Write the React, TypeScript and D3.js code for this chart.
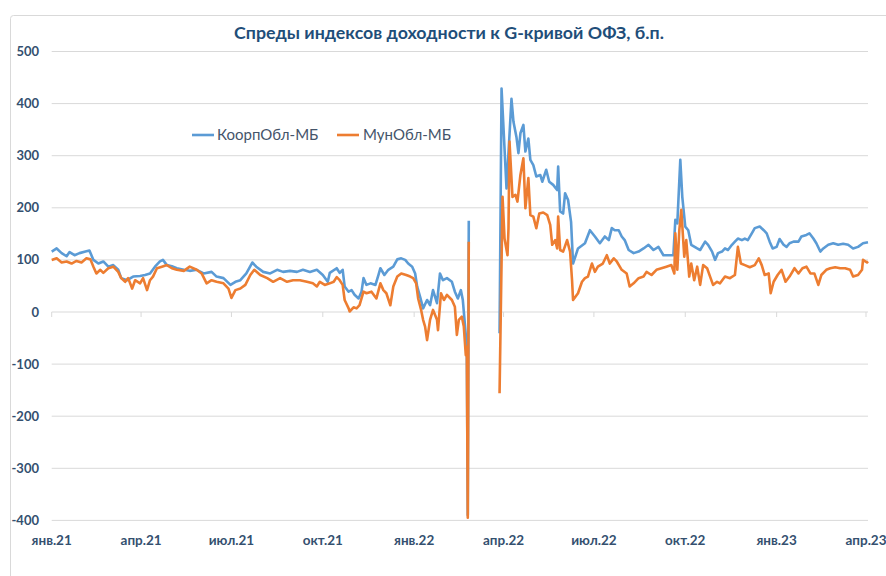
import React from "react";
import * as d3 from "d3";

const TITLE = "Спреды индексов доходности к G-кривой ОФЗ, б.п.";
const SERIES_NAMES = ["КоорпОбл-МБ", "МунОбл-МБ"];
const Y_TICKS = [500, 400, 300, 200, 100, 0, -100, -200, -300, -400];
const X_TICK_DATES = ["2021-01-01", "2021-04-01", "2021-07-01", "2021-10-01", "2022-01-01", "2022-04-01", "2022-07-01", "2022-10-01", "2023-01-01", "2023-04-01"];
const X_TICK_LABELS = ["янв.21", "апр.21", "июл.21", "окт.21", "янв.22", "апр.22", "июл.22", "окт.22", "янв.23", "апр.23"];
const GAP_DATE = "2022-03-10";

const koorpDates = [
  "2021-01-01","2021-01-06","2021-01-11","2021-01-16","2021-01-19","2021-01-24","2021-01-29","2021-02-04","2021-02-08","2021-02-12",
  "2021-02-17","2021-02-22","2021-02-27","2021-03-04","2021-03-09","2021-03-12","2021-03-18","2021-03-24","2021-03-31","2021-04-05",
  "2021-04-10","2021-04-15","2021-04-20","2021-04-23","2021-04-27","2021-05-02","2021-05-07","2021-05-14","2021-05-20","2021-05-27",
  "2021-06-03","2021-06-11","2021-06-16","2021-06-23","2021-06-30","2021-07-05","2021-07-10","2021-07-16","2021-07-22","2021-07-26",
  "2021-08-02","2021-08-09","2021-08-16","2021-08-22","2021-08-29","2021-09-05","2021-09-11","2021-09-18","2021-09-25","2021-10-01",
  "2021-10-06","2021-10-08","2021-10-15","2021-10-18","2021-10-21","2021-10-23","2021-10-27","2021-10-30","2021-11-02","2021-11-06",
  "2021-11-09","2021-11-11","2021-11-14","2021-11-18","2021-11-23","2021-11-26","2021-11-28","2021-12-02","2021-12-06","2021-12-11",
  "2021-12-15","2021-12-19","2021-12-23","2021-12-26","2021-12-30","2022-01-02","2022-01-04","2022-01-07","2022-01-10","2022-01-14",
  "2022-01-17","2022-01-20","2022-01-24","2022-01-27","2022-01-30","2022-02-03","2022-02-08","2022-02-11","2022-02-14","2022-02-17",
  "2022-02-19","2022-02-21","2022-02-23","2022-02-24","2022-02-25",GAP_DATE,"2022-03-28","2022-03-30","2022-04-04","2022-04-09",
  "2022-04-11","2022-04-14","2022-04-16","2022-04-18","2022-04-21","2022-04-23","2022-04-26","2022-04-28","2022-05-01","2022-05-04",
  "2022-05-08","2022-05-10","2022-05-14","2022-05-17","2022-05-21","2022-05-25","2022-05-26","2022-05-28","2022-05-31","2022-06-02",
  "2022-06-05","2022-06-08","2022-06-10","2022-06-15","2022-06-22","2022-06-27","2022-07-02","2022-07-07","2022-07-12","2022-07-16",
  "2022-07-19","2022-07-22","2022-07-26","2022-07-29","2022-08-01","2022-08-05","2022-08-10","2022-08-15","2022-08-20","2022-08-25",
  "2022-08-30","2022-09-04","2022-09-09","2022-09-14","2022-09-19","2022-09-21","2022-09-23","2022-09-26","2022-09-28","2022-10-01",
  "2022-10-04","2022-10-07","2022-10-13","2022-10-16","2022-10-21","2022-10-24","2022-10-28","2022-10-31","2022-11-03","2022-11-07",
  "2022-11-10","2022-11-13","2022-11-17","2022-11-20","2022-11-23","2022-11-27","2022-11-30","2022-12-03","2022-12-07","2022-12-10",
  "2022-12-15","2022-12-19","2022-12-22","2022-12-25","2022-12-28","2023-01-01","2023-01-04","2023-01-08","2023-01-11","2023-01-14",
  "2023-01-18","2023-01-23","2023-01-26","2023-01-31","2023-02-03","2023-02-07","2023-02-10","2023-02-14","2023-02-17","2023-02-22",
  "2023-02-27","2023-03-04","2023-03-09","2023-03-14","2023-03-19","2023-03-24","2023-03-29","2023-04-03"
];
const koorpValues: (number | null)[] = [
  116,122,113,107,115,109,113,116,118,100,
  93,97,87,90,81,65,61,68,69,71,
  74,87,97,100,90,88,84,81,79,81,
  74,77,68,65,52,58,61,74,95,87,
  77,74,81,77,79,77,81,77,81,71,
  58,75,84,75,81,49,39,42,33,26,
  39,65,52,55,52,71,84,71,81,87,
  101,103,100,93,87,74,49,29,7,23,
  13,42,17,74,61,65,58,39,26,42,
  23,-22,-67,-390,175,null,-41,429,237,409,
  365,336,305,343,359,308,333,292,282,260,
  263,250,273,250,244,234,279,193,189,228,
  215,173,93,122,132,157,145,132,145,138,
  161,157,157,145,138,119,113,116,122,129,
  119,125,109,109,109,177,170,292,221,164,
  157,129,122,119,135,129,116,100,113,116,
  122,119,129,135,141,138,141,138,151,161,
  164,157,151,135,122,125,140,129,125,132,
  135,135,145,148,151,141,132,116,122,129,
  132,129,131,129,122,125,132,134
];

const munDates = [
  "2021-01-01","2021-01-06","2021-01-11","2021-01-16","2021-01-21","2021-01-26","2021-01-31","2021-02-05","2021-02-09","2021-02-12",
  "2021-02-15","2021-02-19","2021-02-22","2021-02-27","2021-03-04","2021-03-09","2021-03-12","2021-03-16","2021-03-19","2021-03-23",
  "2021-03-26","2021-03-31","2021-04-03","2021-04-07","2021-04-10","2021-04-13","2021-04-17","2021-04-22","2021-04-27","2021-05-02",
  "2021-05-07","2021-05-14","2021-05-20","2021-05-27","2021-06-01","2021-06-06","2021-06-11","2021-06-16","2021-06-23","2021-06-28",
  "2021-07-01","2021-07-05","2021-07-10","2021-07-15","2021-07-20","2021-07-24","2021-07-30","2021-08-06","2021-08-12","2021-08-19",
  "2021-08-26","2021-09-01","2021-09-08","2021-09-15","2021-09-21","2021-09-25","2021-09-28","2021-10-03","2021-10-08","2021-10-12",
  "2021-10-15","2021-10-18","2021-10-21","2021-10-23","2021-10-27","2021-10-28","2021-11-01","2021-11-04","2021-11-07","2021-11-11",
  "2021-11-14","2021-11-19","2021-11-24","2021-11-28","2021-12-01","2021-12-04","2021-12-08","2021-12-11","2021-12-15","2021-12-19",
  "2021-12-24","2021-12-28","2021-12-31","2022-01-03","2022-01-05","2022-01-08","2022-01-10","2022-01-12","2022-01-14","2022-01-17",
  "2022-01-20","2022-01-24","2022-01-25","2022-01-28","2022-01-31","2022-02-03","2022-02-08","2022-02-11","2022-02-13","2022-02-15",
  "2022-02-18","2022-02-20","2022-02-22","2022-02-23","2022-02-24","2022-02-25",GAP_DATE,"2022-03-28","2022-03-31","2022-04-02",
  "2022-04-05","2022-04-06","2022-04-07","2022-04-10","2022-04-13","2022-04-15","2022-04-18","2022-04-21","2022-04-23","2022-04-26",
  "2022-04-28","2022-05-01","2022-05-04","2022-05-07","2022-05-11","2022-05-15","2022-05-18","2022-05-20","2022-05-23","2022-05-25",
  "2022-05-26","2022-05-28","2022-05-31","2022-06-04","2022-06-07","2022-06-09","2022-06-10","2022-06-15","2022-06-19","2022-06-22",
  "2022-06-25","2022-06-29","2022-07-02","2022-07-05","2022-07-10","2022-07-14","2022-07-17","2022-07-21","2022-07-24","2022-07-29",
  "2022-08-03","2022-08-06","2022-08-10","2022-08-15","2022-08-20","2022-08-23","2022-08-28","2022-09-02","2022-09-07","2022-09-12",
  "2022-09-17","2022-09-20","2022-09-21","2022-09-23","2022-09-25","2022-09-27","2022-09-30","2022-10-02","2022-10-05","2022-10-07",
  "2022-10-10","2022-10-13","2022-10-16","2022-10-19","2022-10-23","2022-10-26","2022-10-29","2022-11-02","2022-11-05","2022-11-10",
  "2022-11-15","2022-11-20","2022-11-23","2022-11-26","2022-11-30","2022-12-05","2022-12-10","2022-12-14","2022-12-17","2022-12-20",
  "2022-12-24","2022-12-26","2022-12-29","2023-01-02","2023-01-06","2023-01-10","2023-01-14","2023-01-19","2023-01-23","2023-01-27",
  "2023-01-31","2023-02-04","2023-02-08","2023-02-12","2023-02-15","2023-02-20","2023-02-24","2023-03-01","2023-03-06","2023-03-11",
  "2023-03-16","2023-03-19","2023-03-24","2023-03-28","2023-03-29","2023-04-02","2023-04-03"
];
const munValues: (number | null)[] = [
  100,103,95,97,93,98,95,103,101,87,
  74,81,75,84,87,77,65,58,65,45,
  61,55,65,42,61,68,84,87,90,84,
  81,79,87,81,74,55,61,58,55,45,
  27,42,45,52,71,81,71,65,58,65,
  58,61,61,58,55,49,58,52,55,58,
  67,61,52,23,7,1,9,7,13,39,
  36,39,26,55,42,36,13,49,68,74,
  71,68,65,55,26,4,-15,-28,-54,-15,
  4,-15,-35,36,23,33,23,10,-44,-15,
  -9,-28,-83,-67,-395,135,null,-156,221,141,
  109,161,327,221,225,212,263,295,199,257,
  186,183,161,189,191,186,167,129,138,122,
  183,119,116,138,116,61,23,36,58,65,
  68,93,77,87,93,109,93,103,97,81,
  74,49,55,65,68,77,71,81,84,87,
  90,74,151,81,157,196,106,138,68,93,
  61,87,52,90,84,68,52,58,55,68,
  65,71,125,93,90,86,90,103,90,71,
  74,36,58,71,81,58,68,84,74,84,
  87,74,74,52,71,81,84,86,84,84,
  81,68,71,81,100,95,97
];

const W = 886;
const H = 576;
const X0 = 51.7;
const X1 = 866;
const PLOT_RIGHT = 868;
const FONT = "Lato, 'Open Sans', sans-serif";

export default function App() {
  const parse = d3.utcParse("%Y-%m-%d");
  const x = d3.scaleUtc().domain([parse("2021-01-01")!, parse("2023-04-01")!]).range([X0, X1]);
  const y = d3.scaleLinear().domain([-400, 500]).range([520.4, 51.5]);

  const mk = (dates: string[], vals: (number | null)[]) =>
    dates.map((d, i) => ({ date: parse(d)!, v: vals[i] }));
  const koorp = mk(koorpDates, koorpValues);
  const mun = mk(munDates, munValues);

  const line = d3
    .line<{ date: Date; v: number | null }>()
    .defined((d) => d.v !== null)
    .x((d) => x(d.date))
    .y((d) => y(d.v as number));

  const axisColor = "#34506f";

  return (
    <svg width={W} height={H} style={{ position: "absolute", left: 0, top: 0, background: "#fff" }}>
      <rect x={10.5} y={15.5} width={W + 20} height={H + 20} rx={3} fill="#fff" stroke="#d9d9d9" />
      <text x={449} y={39} textAnchor="middle" fontFamily={FONT} fontWeight={700} fontSize={17.8} fill="#1f4e79">
        {TITLE}
      </text>
      {Y_TICKS.map((t) => (
        <g key={t}>
          <line x1={X0} x2={PLOT_RIGHT} y1={y(t)} y2={y(t)} stroke="#d9d9d9" strokeWidth={1} />
          <text x={39} y={y(t) + 4.5} textAnchor="end" fontFamily={FONT} fontWeight={700} fontSize={13} fill={axisColor}>
            {t}
          </text>
        </g>
      ))}
      {X_TICK_DATES.map((d, i) => (
        <g key={d}>
          <line x1={x(parse(d)!)} x2={x(parse(d)!)} y1={y(0)} y2={y(0) + 5} stroke="#d9d9d9" />
          <text x={x(parse(d)!)} y={545} textAnchor="middle" fontFamily={FONT} fontWeight={700} fontSize={13.5} fill={axisColor}>
            {X_TICK_LABELS[i]}
          </text>
        </g>
      ))}
      <path d={line(koorp) || ""} fill="none" stroke="#5b9bd5" strokeWidth={2.6} strokeLinejoin="round" />
      <path d={line(mun) || ""} fill="none" stroke="#ed7d31" strokeWidth={2.6} strokeLinejoin="round" />
      <g fontFamily={FONT} fontSize={15} fill="#44546a">
        <line x1={192} x2={214} y1={135} y2={135} stroke="#5b9bd5" strokeWidth={2.6} />
        <text x={217} y={140}>{SERIES_NAMES[0]}</text>
        <line x1={337} x2={359} y1={135} y2={135} stroke="#ed7d31" strokeWidth={2.6} />
        <text x={363} y={140}>{SERIES_NAMES[1]}</text>
      </g>
    </svg>
  );
}
